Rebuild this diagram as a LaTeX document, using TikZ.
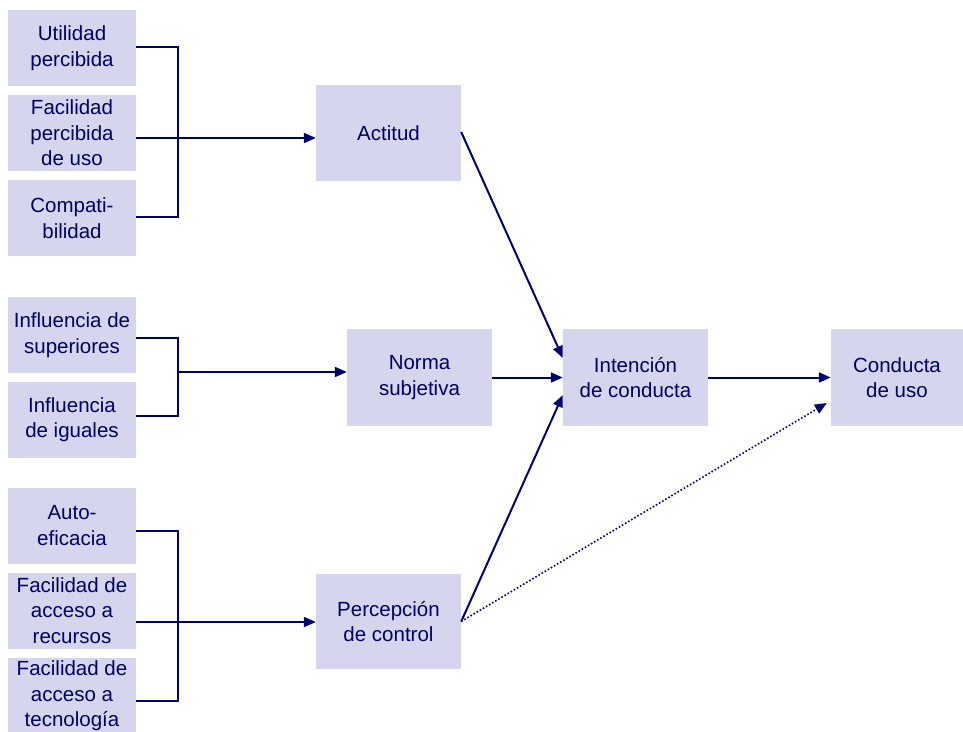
\documentclass[tikz,border=0pt]{standalone}
\usepackage{fontspec}
\setmainfont{Liberation Sans}
\usetikzlibrary{arrows.meta,calc}
\definecolor{boxfill}{RGB}{213,213,237}
\definecolor{navy}{RGB}{0,0,102}
\definecolor{linec}{RGB}{0,0,110}
\begin{document}
\begin{tikzpicture}[x=1pt,y=-1pt,
  box/.style={fill=boxfill,draw=none,inner sep=0pt,align=center,text=navy,
    font=\fontsize{20.5}{25.5}\selectfont},
  smallbox/.style={box,minimum width=128pt,minimum height=76pt},
  bigbox/.style={box,minimum width=145pt,minimum height=96pt},
  arr/.style={draw=linec,line width=2pt,-{Triangle[length=12pt,width=10pt]}},
  brk/.style={draw=linec,line width=1.5pt}]
\useasboundingbox (0,0) rectangle (963,731);
% left column
\node[smallbox] (u) at (72,48) {Utilidad\\percibida};
\node[smallbox] (f) at (72,133) {Facilidad\\percibida\\de uso};
\node[smallbox] (c) at (72,218) {Compati-\\bilidad};
\node[smallbox] (s) at (72,335) {Influencia de\\superiores};
\node[smallbox] (g) at (72,419.5) {Influencia\\de iguales};
\node[smallbox] (a) at (72,525.5) {Auto-\\eficacia};
\node[smallbox] (r) at (72,610.5) {Facilidad de\\acceso a\\recursos};
\node[smallbox] (t) at (72,696) {Facilidad de\\acceso a\\tecnología};
% middle
\node[bigbox] (act) at (388.5,133) {Actitud};
\node[bigbox,minimum height=97pt] (nor) at (419.5,377.5) {Norma\\subjetiva};
\node[bigbox,minimum height=95pt] (per) at (388.5,621.5) {Percepción\\de control};
\node[bigbox,minimum height=97pt] (int) at (635.5,377.5) {Intención\\de conducta};
\node[box,minimum width=132pt,minimum height=97pt] (con) at (897,377.5) {Conducta\\de uso};
% brackets
\coordinate (b1) at (178,47);
\coordinate (b2) at (178,217);
\coordinate (b3) at (178,338);
\coordinate (b4) at (178,416);
\coordinate (b5) at (178,372);
\coordinate (b6) at (178,531);
\coordinate (b7) at (178,701);
\draw[brk] ($(u.east)+(0,-1)$) -- (b1) -- (b2) -- ($(c.east)+(0,-1)$);
\draw[arr] ($(f.east)+(0,5)$) -- ($(act.west)+(0,5)$);
\draw[brk] ($(s.east)+(0,3)$) -- (b3) -- (b4) -- ($(g.east)+(0,-3.5)$);
\draw[arr] (b5) -- (nor.west |- b5);
\draw[brk] ($(a.east)+(0,5.5)$) -- (b6) -- (b7) -- ($(t.east)+(0,5)$);
\draw[arr] ($(r.east)+(0,11.5)$) -- (per.west |- {$(r.east)+(0,11.5)$});
% to intention
\draw[arr] ($(act.east)+(0,-1)$) -- ($(int.west)+(0,-19.5)$);
\draw[arr] (nor.east) -- (int.west);
\draw[arr] (per.east) -- ($(int.west)+(0,17.5)$);
\draw[arr] (int.east) -- (con.west);
\draw[draw=linec,line width=1.6pt,dotted,-{Triangle[length=12pt,width=10pt]}] (per.east) -- ($(con.west)+(-4,25.5)$);
\end{tikzpicture}
\end{document}
